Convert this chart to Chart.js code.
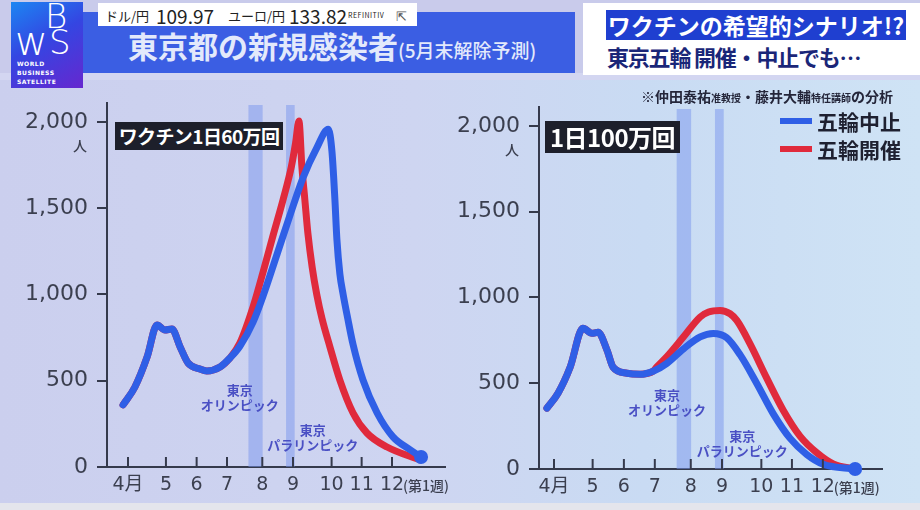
<!DOCTYPE html>
<html>
<head>
<meta charset="utf-8">
<script src="https://cdn.jsdelivr.net/npm/chart.js@4.4.0/dist/chart.umd.min.js"></script>
<style>
  html, body { margin: 0; padding: 0; }
  body {
    width: 920px; height: 510px; overflow: hidden; position: relative;
    font-family: "Noto Sans CJK JP", "Noto Sans", sans-serif;
    background: linear-gradient(90deg, #cbcfee 0%, #ced5f1 45%, #c9dbf3 70%, #cfe3f5 100%);
  }
  .abs { position: absolute; }
  #topstrip { left: 0; top: 0; width: 920px; height: 80px; background: #c9cbeb; }
  #band { left: 83px; top: 12px; width: 492px; height: 61px; background: #3b5ee3; }
  #under { left: 0; top: 73px; width: 920px; height: 7px; background: #d3d6f1; }
  #logo { left: 11px; top: 2px; width: 72px; height: 86px;
          background: linear-gradient(150deg, #1c86f2 0%, #3446e2 45%, #6627cf 100%); overflow: hidden; }
  #logo .l { position: absolute; color: #fff; font-family: "DejaVu Sans", sans-serif; font-weight: 200; }
  #logo .c { position: absolute; left: 6px; color: #fff; font-family: "DejaVu Sans", sans-serif;
             font-size: 6px; font-weight: bold; letter-spacing: 0.5px; }
  #ticker { left: 98px; top: 3px; width: 319px; height: 23px; background: #fff; }
  #ticker span { position: absolute; top: 50%; transform: translateY(-50%); color: #222; white-space: nowrap; }
  #title { left: 128px; top: 23px; color: #e3e9fb; font-weight: bold; font-size: 30px; white-space: nowrap; }
  #title small { font-size: 19px; font-weight: 500; }
  #rbox { left: 583px; top: 3px; width: 337px; height: 72px; background: #fff; }
  #hl { left: 606px; top: 10px; width: 300px; height: 30px; background: #1f3fd0; color: #fff;
        font-weight: bold; font-size: 23px; line-height: 30px; text-align: center; white-space: nowrap; }
  #sub { left: 607px; top: 40px; color: #1a2678; font-weight: bold; font-size: 22px; letter-spacing: -1.2px; white-space: nowrap; }
  .tag { background: #1d1f2b; color: #fff; font-weight: bold; white-space: nowrap; text-align: center; }
  #note { left: 560px; top: 86px; width: 333px; text-align: right; color: #24263a; font-weight: bold;
          font-size: 14px; white-space: nowrap; }
  #note .s { font-size: 10px; }
  .leg { position: absolute; left: 780px; width: 32px; height: 6px; }
  .legt { position: absolute; left: 817px; font-size: 21px; font-weight: bold; color: #1e2030; white-space: nowrap; }
  #foot { left: 0; top: 503px; width: 920px; height: 7px; background: #e4e5ec; }
  .wrap { position: absolute; top: 80px; height: 430px; }
</style>
</head>
<body>
<div class="abs" id="topstrip"></div>
<div class="abs" id="under"></div>
<div class="abs" id="band"></div>
<div class="abs" id="logo">
  <span class="l" style="left:4px;top:16px;font-size:40px;">w</span>
  <span class="l" style="left:34px;top:-6px;font-size:34px;">B</span>
  <span class="l" style="left:38px;top:20px;font-size:34px;">S</span>
  <span class="c" style="top:58px;">WORLD</span>
  <span class="c" style="top:67px;">BUSINESS</span>
  <span class="c" style="top:76px;">SATELLITE</span>
</div>
<div class="abs" id="ticker">
  <span style="left:7px;font-size:13px;">ドル/円</span>
  <span style="left:58px;font-size:19px;">109.97</span>
  <span style="left:130px;font-size:13px;">ユーロ/円</span>
  <span style="left:191px;font-size:19px;">133.82</span>
  <span style="left:250px;font-size:7px;letter-spacing:0.5px;">REFINITIV</span>
  <span style="left:298px;font-size:13px;color:#555;">⇱</span>
</div>
<div class="abs" id="title">東京都の新規感染者<small>(5月末解除予測)</small></div>
<div class="abs" id="rbox"></div>
<div class="abs" id="hl">ワクチンの希望的シナリオ!?</div>
<div class="abs" id="sub">東京五輪 開催・中止でも…</div>
<div class="abs" id="foot"></div>

<div class="wrap" style="left:0;width:460px;"><canvas id="leftChart"></canvas></div>
<div class="wrap" style="left:440px;width:480px;"><canvas id="rightChart"></canvas></div>

<div class="abs tag" style="left:115px;top:122px;width:168px;height:28px;line-height:28px;font-size:19px;letter-spacing:-0.6px;">ワクチン1日60万回</div>
<div class="abs tag" style="left:545px;top:121px;width:135px;height:32px;line-height:32px;font-size:24px;letter-spacing:-0.5px;">1日100万回</div>
<div class="abs" id="note">※仲田泰祐<span class="s">准教授</span>・藤井大輔<span class="s">特任講師</span>の分析</div>
<div class="leg" style="top:118px;background:#2f5fe6;"></div>
<div class="legt" style="top:106px;">五輪中止</div>
<div class="leg" style="top:146px;background:#e02a3c;"></div>
<div class="legt" style="top:134px;">五輪開催</div>

<script>
// x = 月の位置 (4月 = 0)、y = 人
const monthPos = [0, 1.15, 2.08, 3.0, 4.07, 5.0, 6.17, 7.08, 8.0];
const monthLabels = ['4月', '5', '6', '7', '8', '9', '10', '11', '12'];
const yTicks = [0, 500, 1000, 1500, 2000];
const olympicBands = [[3.65, 4.08], [4.79, 5.05]];

// ワクチン1日60万回
const leftStop = [
  [-0.15, 360], [0.21, 464], [0.58, 638], [0.88, 823], [1.12, 794], [1.33, 800],
  [1.58, 696], [1.82, 603], [2.18, 568], [2.39, 557], [2.79, 580], [3.09, 632],
  [3.39, 700], [3.79, 840], [4.10, 995], [4.51, 1230], [4.91, 1460], [5.31, 1680],
  [5.72, 1850], [6.07, 1958], [6.18, 1830], [6.27, 1550], [6.33, 1320], [6.42, 1120],
  [6.52, 1000], [6.66, 860], [6.82, 710], [7.12, 505], [7.55, 313], [8.03, 175],
  [8.55, 100], [8.88, 58]
];
const leftHold = [
  [-0.15, 360], [0.21, 464], [0.58, 638], [0.88, 823], [1.12, 794], [1.33, 800],
  [1.58, 696], [1.82, 603], [2.18, 568], [2.39, 557], [2.79, 580], [3.09, 632],
  [3.39, 719], [3.80, 935], [4.10, 1135], [4.40, 1345], [4.70, 1550], [4.95, 1740],
  [5.08, 1880], [5.18, 2005], [5.27, 1739], [5.36, 1548], [5.45, 1357], [5.58, 1160],
  [5.72, 1000], [5.88, 860], [6.12, 696], [6.42, 504], [6.82, 313], [7.24, 197],
  [7.85, 116], [8.85, 41]
];

// 1日100万回
const rightStop = [
  [-0.21, 355], [0.12, 442], [0.48, 593], [0.86, 820], [1.13, 791], [1.31, 797],
  [1.58, 692], [1.76, 593], [2.17, 558], [2.56, 552], [2.95, 570], [3.36, 616],
  [3.85, 700], [4.35, 770], [4.74, 790], [5.14, 765], [5.54, 665], [6.03, 500],
  [6.53, 320], [7.02, 180], [7.52, 85], [8.01, 28], [8.96, 0]
];
const rightHold = [
  [-0.21, 355], [0.12, 442], [0.48, 593], [0.86, 820], [1.13, 791], [1.31, 797],
  [1.58, 692], [1.76, 593], [2.17, 558], [2.56, 552], [2.95, 570], [3.06, 595],
  [3.36, 655], [3.85, 769], [4.35, 886], [4.60, 915], [4.94, 924], [5.24, 905],
  [5.44, 866], [5.83, 731], [6.33, 530], [6.82, 343], [7.32, 192], [7.82, 95],
  [8.31, 30], [8.96, 0]
];

const BLUE = '#2f5fe6';
const RED = '#e02a3c';
const AXIS = '#353a4c';
const NUM_FONT = '"DejaVu Sans", "Noto Sans CJK JP", sans-serif';
const JP_FONT = '"Noto Sans CJK JP", sans-serif';

const decor = {
  id: 'decor',
  beforeDatasetsDraw(chart, args, opts) {
    const { ctx, chartArea, scales: { x } } = chart;
    ctx.save();
    ctx.fillStyle = 'rgba(122,150,238,0.5)';
    olympicBands.forEach(([a, b]) => {
      const x1 = x.getPixelForValue(a);
      const x2 = x.getPixelForValue(b);
      ctx.fillRect(x1, chartArea.top + 2, x2 - x1, chartArea.bottom - chartArea.top - 2);
    });
    ctx.restore();
  },
  afterDraw(chart, args, opts) {
    const { ctx, chartArea, scales: { x, y } } = chart;
    ctx.save();
    // 上向きの目盛り
    ctx.strokeStyle = AXIS;
    ctx.lineWidth = 2;
    monthPos.forEach(v => {
      const px = x.getPixelForValue(v);
      ctx.beginPath();
      ctx.moveTo(px, chartArea.bottom);
      ctx.lineTo(px, chartArea.bottom - 10);
      ctx.stroke();
    });
    ctx.fillStyle = '#3b3f4f';
    ctx.font = '500 14px ' + JP_FONT;
    ctx.textBaseline = 'middle';
    ctx.textAlign = 'left';
    ctx.fillText('(第1週)', x.getPixelForValue(monthPos[monthPos.length - 1]) + 11, chartArea.bottom + 19);
    ctx.textAlign = 'center';
    ctx.fillText('人', chartArea.left - 27, y.getPixelForValue(2000) + 24);
    // 五輪の注記
    ctx.fillStyle = '#4a50c4';
    ctx.font = 'bold 13px ' + JP_FONT;
    opts.labels.forEach(l => {
      ctx.fillText(l.lines[0], x.getPixelForValue(l.x), y.getPixelForValue(l.y[0]));
      ctx.fillText(l.lines[1], x.getPixelForValue(l.x), y.getPixelForValue(l.y[1]));
    });
    ctx.restore();
  }
};

function series(points, color, dot) {
  return {
    data: points.map(([x, y]) => ({ x, y })),
    borderColor: color,
    borderWidth: 7,
    borderCapStyle: 'round',
    borderJoinStyle: 'round',
    cubicInterpolationMode: 'monotone',
    pointRadius: ctx => (dot && ctx.dataIndex === points.length - 1 ? 7 : 0),
    pointBackgroundColor: color,
    pointBorderWidth: 0,
    clip: false
  };
}

function makeChart(id, stop, hold, cfg) {
  return new Chart(document.getElementById(id), {
    type: 'line',
    data: { datasets: [series(stop, BLUE, true), series(hold, RED, false)] },
    options: {
      responsive: true,
      maintainAspectRatio: false,
      animation: false,
      layout: { padding: { top: cfg.top, right: cfg.right, left: 0, bottom: 0 } },
      plugins: {
        legend: { display: false },
        tooltip: { enabled: false },
        decor: { labels: cfg.labels }
      },
      scales: {
        x: {
          type: 'linear',
          min: cfg.xMin,
          max: cfg.xMax,
          afterBuildTicks: s => { s.ticks = monthPos.map(v => ({ value: v })); },
          afterFit: s => { s.height = cfg.xHeight; },
          ticks: {
            autoSkip: false,
            maxRotation: 0,
            padding: 7,
            color: '#3b3f4f',
            font: { family: NUM_FONT, size: 19 },
            callback: (v, i) => monthLabels[i]
          },
          grid: { display: false, drawTicks: false },
          border: { color: AXIS, width: 2 }
        },
        y: {
          min: 0,
          max: 2110,
          afterBuildTicks: s => { s.ticks = yTicks.map(v => ({ value: v })); },
          afterFit: s => { s.width = cfg.yWidth; },
          ticks: {
            padding: 9,
            color: '#3b3f4f',
            font: { family: NUM_FONT, size: 22 },
            callback: v => v.toLocaleString('en-US')
          },
          grid: { drawOnChartArea: false, tickLength: 10, color: AXIS, lineWidth: 2 },
          border: { color: AXIS, width: 2 }
        }
      }
    },
    plugins: [decor]
  });
}

makeChart('leftChart', leftStop, leftHold, {
  top: 23, right: 15, xMin: -0.636, xMax: 9.606, xHeight: 43, yWidth: 107,
  labels: [
    { x: 3.39, y: [446, 359], lines: ['東京', 'オリンピック'] },
    { x: 5.6, y: [214, 128], lines: ['東京', 'パラリンピック'] }
  ]
});

makeChart('rightChart', rightStop, rightHold, {
  top: 27, right: 38, xMin: -0.446, xMax: 9.76, xHeight: 41, yWidth: 99,
  labels: [
    { x: 3.36, y: [430, 343], lines: ['東京', 'オリンピック'] },
    { x: 5.6, y: [192, 105], lines: ['東京', 'パラリンピック'] }
  ]
});
</script>
</body>
</html>
